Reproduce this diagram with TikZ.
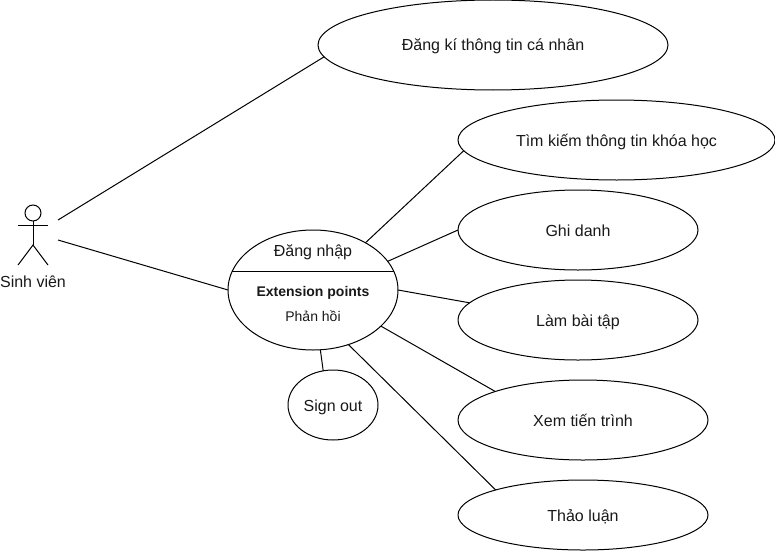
\documentclass[tikz,border=0pt]{standalone}
\usepackage{fontspec}
\setmainfont{Liberation Sans}
\usetikzlibrary{shapes.geometric}
\tikzset{
  usecase/.style={draw=black,line width=1pt,ellipse,inner sep=0pt,outer sep=0pt,font=\fontsize{16}{18}\selectfont,text=black!90,text height=15pt,text depth=3pt},
  link/.style={draw=black,line width=1pt},
  lbl/.style={inner sep=0pt,font=\fontsize{16}{18}\selectfont,text=black!90,text height=15pt,text depth=3pt},
  small/.style={inner sep=0pt,font=\fontsize{14}{16}\selectfont,text=black!90,text height=14pt,text depth=3pt}
}
\begin{document}
\begin{tikzpicture}[x=1pt,y=-1pt]
\useasboundingbox[fill=white] (0,0) rectangle (775,551);
\node[usecase,minimum width=350pt,minimum height=90pt] (reg) at (493,45) {Đăng kí thông tin cá nhân};
\node[usecase,minimum width=317pt,minimum height=80pt] (find) at (616.5,140) {Tìm kiếm thông tin khóa học};
\node[usecase,minimum width=240pt,minimum height=80pt] (enrol) at (578,230) {Ghi danh};
\node[usecase,minimum width=240pt,minimum height=80pt] (hw) at (578,320) {Làm bài tập};
\node[usecase,minimum width=250pt,minimum height=80pt] (prog) at (583,420) {Xem tiến trình};
\node[usecase,minimum width=250pt,minimum height=70pt] (disc) at (583,515) {Thảo luận};
\node[usecase,minimum width=170pt,minimum height=120pt] (login) at (313,290) {};
\node[usecase,minimum width=90pt,minimum height=70pt] (signout) at (333,405) {Sign out};
\node[lbl] (logint) at (313,250) {Đăng nhập};
\node[small,font=\fontsize{14}{16}\selectfont\bfseries] (ext) at (313,291) {Extension points};
\node[small] (fb) at (313,316) {Phản hồi};
\draw[link] (login.167.5) -- (login.13.2);
% actor
\node[draw=black,line width=1pt,circle,minimum size=16pt,inner sep=0pt,outer sep=0pt] (head) at (33,213) {};
\coordinate (hip) at (33,245);
\draw[link] (head.south) -- (hip);
\coordinate (armL) at (18,225);
\coordinate (armR) at (48,225);
\coordinate (legL) at (18,265);
\coordinate (legR) at (48,265);
\draw[link] (armL) -- (armR);
\draw[link] (legL) -- (hip) -- (legR);
\node[lbl] (actor) at (33,281) {Sinh viên};
\coordinate (a1) at (58,220);
\coordinate (a2) at (58,240);
% connectors
\draw[link] (a1) -- (reg.184.5);
\draw[link] (a2) -- (login.180);
\draw[link] (login.42.1) -- (find.184.6);
\draw[link] (login.21.1) -- (enrol.180);
\draw[link] (login.0) -- (hw.171);
\draw[link] (login.-28.9) -- (prog.162.8);
\draw[link] (login.-57.3) -- (disc.164.1);
\draw[link] (login.-83.3) -- (signout.106.4);
\end{tikzpicture}
\end{document}
